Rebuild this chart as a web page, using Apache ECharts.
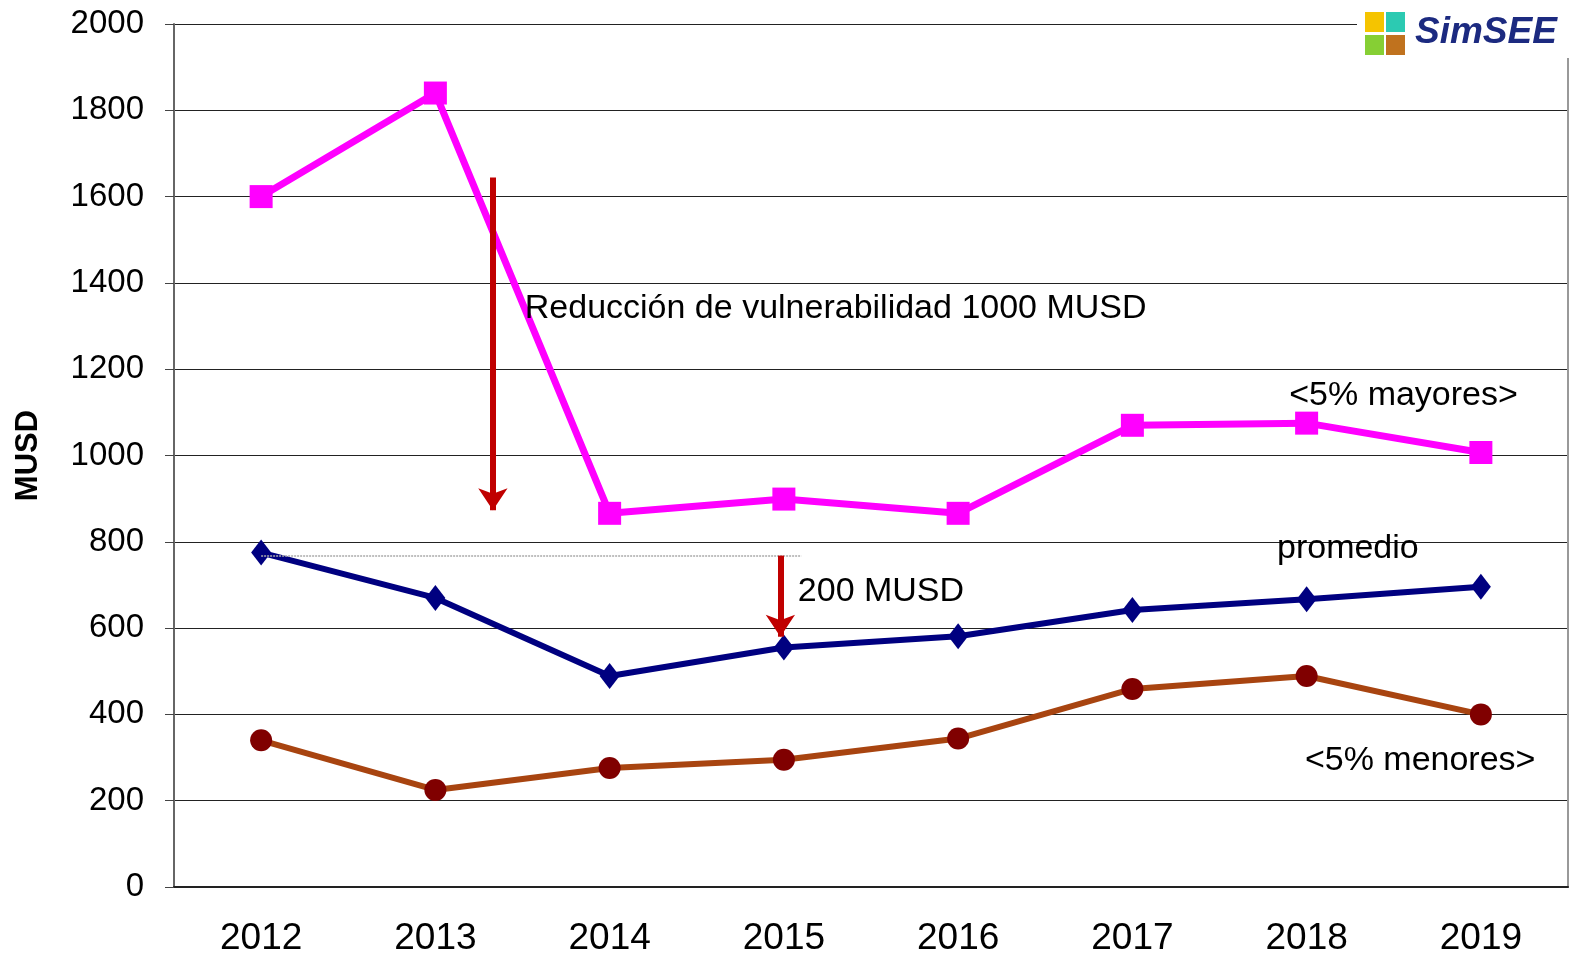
<!DOCTYPE html>
<html>
<head>
<meta charset="utf-8">
<script src="https://cdn.jsdelivr.net/npm/echarts@6/dist/echarts.min.js"></script>
<style>
  html, body { margin: 0; padding: 0; background: #fff; }
  #chart { width: 1588px; height: 957px; }
</style>
</head>
<body>
<div id="chart"></div>
<script>
// categories and series
const years = ["2012", "2013", "2014", "2015", "2016", "2017", "2018", "2019"];
const mayores = [1600, 1840, 866, 899, 866, 1070, 1075, 1007];
const promedio = [775, 670, 489, 555, 581, 642, 667, 696];
const menores = [340, 225, 276, 295, 344, 459, 489, 400];

// annotations, in data units (x = category index)
const arrowBig = [[1.33, 1644], [1.33, 873]];
const arrowSmall = [[2.98, 768], [2.98, 580]];
const refLine = [[0, 768], [3.1, 768]];
const notes = [
  [1.513, 1341, "Reducción de vulnerabilidad 1000 MUSD"],
  [3.08, 684, "200 MUSD"],
  [5.9, 1138, "<5% mayores>"],
  [5.83, 784, "promedio"],
  [5.99, 294, "<5% menores>"]
];

const font = "Liberation Sans, Arial, sans-serif";
const chart = echarts.init(document.getElementById("chart"));

const option = {
  backgroundColor: "#fff",
  animation: false,
  grid: { left: 174, right: 20, top: 24, bottom: 68 },
  xAxis: [
    {
      type: "category",
      data: years,
      boundaryGap: true,
      axisLine: { lineStyle: { color: "#222", width: 2 } },
      axisTick: { length: 10, lineStyle: { color: "#555" } },
      axisLabel: {
        color: "#000",
        fontFamily: font,
        fontSize: 37,
        margin: 33,
      },
    },
    {
      type: "value",
      min: -0.5,
      max: 7.5,
      show: false,
    },
  ],
  yAxis: [
    {
      type: "value",
      min: 0,
      max: 2000,
      interval: 200,
      name: "MUSD",
      nameLocation: "middle",
      nameRotate: 90,
      nameGap: 130,
      nameTextStyle: { fontFamily: font, fontWeight: "bold", fontSize: 31, color: "#000" },
      axisLine: { show: true, onZero: false, lineStyle: { color: "#666", width: 2 } },
      axisTick: { show: true, length: 9, lineStyle: { color: "#444" } },
      axisLabel: { color: "#000", fontFamily: font, fontSize: 33, margin: 30, formatter: (v) => String(v) },
      splitLine: { lineStyle: { color: "#222", width: 1.2 } },
    },
    {
      type: "value",
      min: 0,
      max: 2000,
      position: "right",
      axisLine: { show: true, onZero: false, lineStyle: { color: "#999", width: 2 } },
      axisTick: { show: false },
      axisLabel: { show: false },
      splitLine: { show: false },
    },
  ],
  series: [
    {
      name: "<5% mayores>",
      type: "line",
      data: mayores,
      symbol: "rect",
      symbolSize: 23,
      lineStyle: { color: "#ff00ff", width: 7 },
      itemStyle: { color: "#ff00ff" },
      z: 3,
    },
    {
      name: "promedio",
      type: "line",
      data: promedio,
      symbol: "diamond",
      symbolSize: [20, 26],
      lineStyle: { color: "#000080", width: 6 },
      itemStyle: { color: "#000080" },
      z: 3,
    },
    {
      name: "<5% menores>",
      type: "line",
      data: menores,
      symbol: "circle",
      symbolSize: 22,
      lineStyle: { color: "#a84410", width: 6 },
      itemStyle: { color: "#800000" },
      z: 3,
    },
    {
      // arrows + dotted reference line
      type: "line",
      xAxisIndex: 1,
      data: [],
      markLine: {
        silent: true,
        animation: false,
        label: { show: false },
        data: [
          [
            { coord: refLine[0], symbol: "none", lineStyle: { color: "#aaa", width: 1.5, type: [2, 1] } },
            { coord: refLine[1], symbol: "none" },
          ],
          [
            { coord: arrowBig[0], symbol: "none", lineStyle: { color: "#c00000", width: 6, type: "solid" } },
            { coord: arrowBig[1], symbol: "arrow", symbolSize: [22, 22] },
          ],
          [
            { coord: arrowSmall[0], symbol: "none", lineStyle: { color: "#c00000", width: 6, type: "solid" } },
            { coord: arrowSmall[1], symbol: "arrow", symbolSize: [22, 22] },
          ],
        ],
      },
      z: 4,
    },
    {
      // text notes
      type: "scatter",
      xAxisIndex: 1,
      symbolSize: 0,
      data: notes,
      label: {
        show: true,
        position: "right",
        distance: 0,
        formatter: (p) => p.data[2],
        color: "#000",
        opacity: 1,
        fontFamily: font,
        fontSize: 34,
      },
      z: 5,
    },
  ],
  graphic: [
    { type: "rect", left: 1357, top: 0, shape: { width: 231, height: 58 }, style: { fill: "#fff" }, z: 100 },
    { type: "rect", left: 1365, top: 12, shape: { width: 19, height: 20 }, style: { fill: "#f5c400" }, z: 101 },
    { type: "rect", left: 1386, top: 12, shape: { width: 19, height: 20 }, style: { fill: "#2ccab2" }, z: 101 },
    { type: "rect", left: 1365, top: 35, shape: { width: 19, height: 20 }, style: { fill: "#86cf34" }, z: 101 },
    { type: "rect", left: 1386, top: 35, shape: { width: 19, height: 20 }, style: { fill: "#c0721e" }, z: 101 },
    {
      type: "text",
      left: 1415,
      top: 14,
      style: {
        text: "SimSEE",
        fill: "#1c2a80",
        font: "italic bold 37px Liberation Sans, Arial, sans-serif",
      },
      z: 101,
    },
  ],
};

chart.setOption(option);
</script>
</body>
</html>
